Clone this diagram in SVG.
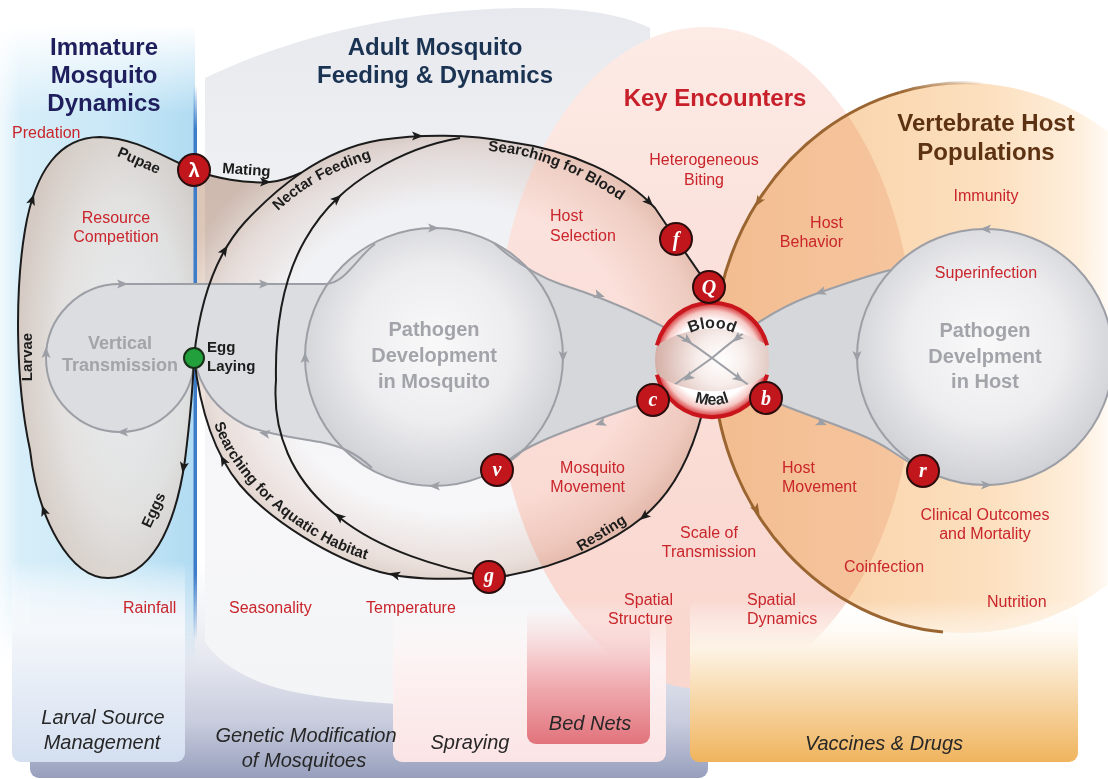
<svg xmlns="http://www.w3.org/2000/svg" width="1108" height="779" viewBox="0 0 1108 779">
<defs>
<style>
.ttl{font-family:"Liberation Sans",Arial,sans-serif;font-weight:bold;font-size:24px;text-anchor:middle}
.lbl{font-family:"Liberation Sans",Arial,sans-serif;font-size:16px;fill:#c9252b}
.mid{text-anchor:middle}
.end{text-anchor:end}
.blk{font-family:"Liberation Sans",Arial,sans-serif;font-weight:bold;font-size:15px;fill:#1c1c1c}
.gry{font-family:"Liberation Sans",Arial,sans-serif;font-weight:bold;font-size:20px;fill:#a3a4aa;text-anchor:middle}
.bot{font-family:"Liberation Sans",Arial,sans-serif;font-style:italic;font-size:20px;fill:#272727;text-anchor:middle}
.nd{fill:#c0161c;stroke:#2b0d0d;stroke-width:2}
.nl{font-family:"Liberation Serif","Times New Roman",serif;font-style:italic;font-weight:bold;font-size:20px;fill:#ffffff;text-anchor:middle}
.bl{fill:none;stroke:#1b1b1b;stroke-width:2}
.gl{fill:none;stroke:#9d9fa6;stroke-width:2}
.ah{fill:#1b1b1b}
.gh{fill:#9d9fa6}
.bh{fill:#9a6530}
.bm{font-family:"Liberation Sans",Arial,sans-serif;font-weight:bold;font-size:16px;fill:#262626;text-anchor:middle}
</style>
<linearGradient id="gStrip" x1="0" y1="560" x2="0" y2="778" gradientUnits="userSpaceOnUse">
<stop offset="0" stop-color="#e9ebf2" stop-opacity="0"/><stop offset="0.45" stop-color="#e6e8f0"/><stop offset="0.75" stop-color="#c7cbdc"/><stop offset="1" stop-color="#979fbd"/>
</linearGradient>
<linearGradient id="gAdultBg" x1="0" y1="8" x2="0" y2="705" gradientUnits="userSpaceOnUse">
<stop offset="0" stop-color="#e8e9ee"/><stop offset="0.3" stop-color="#f0f1f4"/><stop offset="0.7" stop-color="#f7f7f9"/><stop offset="1" stop-color="#f3f4f6"/>
</linearGradient>
<linearGradient id="gBlueH" x1="0" y1="0" x2="195" y2="0" gradientUnits="userSpaceOnUse">
<stop offset="0" stop-color="#e2f2fb" stop-opacity="0.5"/><stop offset="0.1" stop-color="#d7eef9"/><stop offset="0.6" stop-color="#c8e7f6"/><stop offset="1" stop-color="#b0dbf2"/>
</linearGradient>
<linearGradient id="gMaskV" x1="0" y1="25" x2="0" y2="665" gradientUnits="userSpaceOnUse">
<stop offset="0" stop-color="#000"/><stop offset="0.14" stop-color="#fff"/><stop offset="0.84" stop-color="#fff"/><stop offset="1" stop-color="#000"/>
</linearGradient>
<mask id="mBlue"><rect x="0" y="25" width="200" height="640" fill="url(#gMaskV)"/></mask>
<linearGradient id="gPink" x1="0" y1="27" x2="0" y2="690" gradientUnits="userSpaceOnUse">
<stop offset="0" stop-color="#fdebe6"/><stop offset="0.3" stop-color="#fbe2dc"/><stop offset="1" stop-color="#f9d6ce"/>
</linearGradient>
<linearGradient id="gOr" x1="713" y1="0" x2="1108" y2="0" gradientUnits="userSpaceOnUse">
<stop offset="0" stop-color="#f8cfa4"/><stop offset="0.4" stop-color="#fad7b0"/><stop offset="0.7" stop-color="#fce0bf"/><stop offset="0.92" stop-color="#feeedb"/><stop offset="1" stop-color="#fffaf4"/>
</linearGradient>
<clipPath id="cOr"><ellipse cx="965" cy="358" rx="252" ry="275"/></clipPath>
<linearGradient id="gLar" x1="0" y1="560" x2="0" y2="762" gradientUnits="userSpaceOnUse">
<stop offset="0" stop-color="#ffffff" stop-opacity="0"/><stop offset="0.35" stop-color="#f4f7fb"/><stop offset="1" stop-color="#d4dff0"/>
</linearGradient>
<linearGradient id="gSpr" x1="0" y1="600" x2="0" y2="762" gradientUnits="userSpaceOnUse">
<stop offset="0" stop-color="#ffffff" stop-opacity="0"/><stop offset="0.4" stop-color="#fdf2f2"/><stop offset="1" stop-color="#fbe4e5"/>
</linearGradient>
<linearGradient id="gBed" x1="0" y1="610" x2="0" y2="744" gradientUnits="userSpaceOnUse">
<stop offset="0" stop-color="#f6c9c9" stop-opacity="0"/><stop offset="0.5" stop-color="#f1b4b8"/><stop offset="1" stop-color="#e2737c"/>
</linearGradient>
<linearGradient id="gVac" x1="0" y1="600" x2="0" y2="762" gradientUnits="userSpaceOnUse">
<stop offset="0" stop-color="#ffffff" stop-opacity="0"/><stop offset="0.3" stop-color="#fdf3e4"/><stop offset="1" stop-color="#f0b45d"/>
</linearGradient>
<radialGradient id="gImm" cx="0.6" cy="0.5" r="0.6">
<stop offset="0" stop-color="#f0eeee"/><stop offset="0.6" stop-color="#e9e0db"/><stop offset="1" stop-color="#d5c2b6"/>
</radialGradient>
<radialGradient id="gAd" cx="0.5" cy="0.5" r="0.56">
<stop offset="0" stop-color="#ffffff"/><stop offset="0.62" stop-color="#ffffff"/><stop offset="0.84" stop-color="#f3e8e2"/><stop offset="1" stop-color="#dcc6b8"/>
</radialGradient>
<radialGradient id="gPc" cx="0.5" cy="0.45" r="0.55">
<stop offset="0" stop-color="#f9f9fa"/><stop offset="0.55" stop-color="#ededef"/><stop offset="1" stop-color="#cfd0d5"/>
</radialGradient>
<radialGradient id="gBM" cx="0.58" cy="0.5" r="0.6">
<stop offset="0" stop-color="#ffffff"/><stop offset="0.35" stop-color="#f7eeeb"/><stop offset="1" stop-color="#d3aba2"/>
</radialGradient>
<radialGradient id="gBand" gradientUnits="userSpaceOnUse" cx="712" cy="360" r="57">
<stop offset="0" stop-color="#ffffff"/><stop offset="0.7" stop-color="#ffffff"/><stop offset="0.86" stop-color="#f6c9c5"/><stop offset="1" stop-color="#d3282c"/>
</radialGradient>
<linearGradient id="gBr" x1="900" y1="0" x2="985" y2="0" gradientUnits="userSpaceOnUse">
<stop offset="0" stop-color="#9a6530"/><stop offset="1" stop-color="#9a6530" stop-opacity="0"/>
</linearGradient>
<linearGradient id="gBL" x1="0" y1="85" x2="0" y2="640" gradientUnits="userSpaceOnUse">
<stop offset="0" stop-color="#3d7cc8" stop-opacity="0"/><stop offset="0.08" stop-color="#3d7cc8"/><stop offset="0.88" stop-color="#3d7cc8"/><stop offset="1" stop-color="#3d7cc8" stop-opacity="0"/>
</linearGradient>
<path id="ar" d="M3,0 L-8,-4.5 L-5.5,0 L-8,4.5 Z"/>
<path id="tpNF" d="M278,211 C 300,190 330,170 386,154"/>
<path id="tpSB" d="M488,151 C 530,153 580,170 640,214"/>
<path id="tpAQ" d="M214,424 C 230,470 272,515 330,545 C 352,556 375,563 400,567"/>
<path id="tpBlood" d="M668.7,353 A50,50 0 0 1 755.3,353"/>
<path id="tpMeal" d="M668.7,380 A50,50 0 0 0 755.3,380"/>
</defs>

<g id="backgrounds">
<rect x="30" y="560" width="678" height="218" rx="9" fill="url(#gStrip)"/>
<path d="M205,78 C 300,32 420,8 530,8 C 590,8 625,16 650,28 L 660,700 C 560,708 380,712 285,690 C 245,680 218,662 205,642 Z" fill="url(#gAdultBg)"/>
<rect x="0" y="25" width="195" height="640" fill="url(#gBlueH)" mask="url(#mBlue)"/>
<ellipse cx="705" cy="358" rx="210" ry="331" fill="url(#gPink)"/>
<ellipse cx="965" cy="358" rx="252" ry="275" fill="url(#gOr)"/>
<ellipse cx="705" cy="358" rx="210" ry="331" fill="#f6d2c4" clip-path="url(#cOr)" style="mix-blend-mode:multiply" opacity="0.5"/>
</g>

<g id="intervention-boxes">
<rect x="12" y="560" width="173" height="202" rx="9" fill="url(#gLar)"/>
<rect x="393" y="600" width="273" height="162" rx="9" fill="url(#gSpr)"/>
<rect x="527" y="560" width="123" height="184" rx="9" fill="url(#gBed)"/>
<rect x="690" y="600" width="388" height="162" rx="9" fill="url(#gVac)"/>
</g>

<g id="cycle-fills">
<path d="M194,170 C 160,155 135,138 100,137 C 60,137 35,170 25,230 C 15,290 15,380 30,450 C 38,520 70,578 108,578 C 150,578 175,530 185,460 C 190,420 193,385 194,357 Z" fill="url(#gImm)" opacity="0.8"/>
<path d="M194,170 C 215,178 245,184 270,182 C 282,181 292,177 301.25,172.75 C 323.75,157.5 350,145 380,140 C 420,134 470,134 510,142 C 570,150 625,175 655,208 L 676,239 L 709,287 L 712,304 L 712,416 L 700,416 C 690,460 670,495 643,517 C 615,540 565,566 505,576 L 489,577 C 450,580 410,580 380,572 C 330,558 270,520 240,485 C 215,455 200,410 194,357 Z" fill="url(#gAd)" style="mix-blend-mode:multiply"/>
</g>

<rect id="divider" x="193.5" y="85" width="3.5" height="555" fill="url(#gBL)"/>

<g id="pathogen-fills">
<path d="M120,284 L325,284 C 345,284 358,256 375,244 L434,357 L372,468 C 355,452 340,446 320,442 C 290,437 262,433 245,425 C 220,412 200,390 194,358 A74,74 0 1 1 120,284 Z" fill="#dcdde1"/>
<path d="M494,243 C 515,262 535,275 560,284 C 610,300 665,322 712,358 L 653,400 C 620,412 570,428 540,442 C 522,450 508,459 497,470 L 434,357 Z" fill="#d6d7db"/>
<path d="M712,358 C 745,330 775,309 810,296 C 835,287 860,278 890,270 L 985,357 L 923,471 C 915,466 905,460 890,450 C 860,430 810,418 766,398 Z" fill="#d6d7db"/>
</g>

<g id="host-border">
<path d="M899.8,92.4 A252,275 0 0 0 943,632" fill="none" stroke="#9a6530" stroke-width="3"/>
<path d="M1030.2,92.4 A252,275 0 0 0 899.8,92.4" fill="none" stroke="url(#gBr)" stroke-width="3"/>
</g>

<g id="node-pathogen-mosquito">
<circle cx="434" cy="357" r="129" fill="url(#gPc)" stroke="#9d9fa6" stroke-width="2"/>
<text class="gry"><tspan x="434" y="336">Pathogen</tspan><tspan x="434" y="362">Development</tspan><tspan x="434" y="388">in Mosquito</tspan></text>
</g>
<g id="node-pathogen-host">
<circle cx="985" cy="357" r="128" fill="url(#gPc)" stroke="#9d9fa6" stroke-width="2"/>
<text class="gry"><tspan x="985" y="337">Pathogen</tspan><tspan x="985" y="363">Develpment</tspan><tspan x="985" y="388">in Host</tspan></text>
</g>
<g id="node-vertical">
<text class="gry" style="font-size:18px"><tspan x="120" y="349">Vertical</tspan><tspan x="120" y="371">Transmission</tspan></text>
</g>

<g id="blood-meal-sphere">
<circle cx="712" cy="360" r="57" fill="url(#gBM)"/>
</g>

<g id="connectors">
<g id="grey-connectors">
<path class="gl" d="M194,358 A74,74 0 1 1 120,284 L325,284 C 345,284 358,256 375,244"/>
<path class="gl" d="M372,468 C 355,452 340,446 320,442 C 290,437 262,433 245,425 C 220,412 200,390 194,358"/>
<path class="gl" d="M494,243 C 515,262 535,275 560,284 C 610,300 665,322 712,358 L 766,398"/>
<path class="gl" d="M890,270 C 860,278 835,287 810,296 C 775,309 745,330 712,358 L 653,400"/>
<path class="gl" d="M653,400 C 620,412 570,428 540,442 C 522,450 508,459 497,470"/>
<path class="gl" d="M766,398 C 810,418 860,430 890,450 C 905,460 915,466 923,471"/>
<use href="#ar" class="gh" transform="translate(120,432) rotate(180)"/>
<use href="#ar" class="gh" transform="translate(46,350) rotate(-90)"/>
<use href="#ar" class="gh" transform="translate(125,284)"/>
<use href="#ar" class="gh" transform="translate(267,284)"/>
<use href="#ar" class="gh" transform="translate(262,433) rotate(190)"/>
<use href="#ar" class="gh" transform="translate(436,228)"/>
<use href="#ar" class="gh" transform="translate(563,359) rotate(90)"/>
<use href="#ar" class="gh" transform="translate(432,486) rotate(180)"/>
<use href="#ar" class="gh" transform="translate(305,355) rotate(-90)"/>
<use href="#ar" class="gh" transform="translate(602,296) rotate(17)"/>
<use href="#ar" class="gh" transform="translate(598,424) rotate(162)"/>
<use href="#ar" class="gh" transform="translate(690,342) rotate(37)"/>
<use href="#ar" class="gh" transform="translate(741,380) rotate(36)"/>
<use href="#ar" class="gh" transform="translate(735,340) rotate(140)"/>
<use href="#ar" class="gh" transform="translate(686,379) rotate(145)"/>
<use href="#ar" class="gh" transform="translate(824,424) rotate(22)"/>
<use href="#ar" class="gh" transform="translate(818,293) rotate(162)"/>
<use href="#ar" class="gh" transform="translate(983,229) rotate(180)"/>
<use href="#ar" class="gh" transform="translate(857,359) rotate(90)"/>
<use href="#ar" class="gh" transform="translate(989,485)"/>
</g>
<g id="black-connectors">
<path class="bl" d="M194,170 C 160,155 135,138 100,137 C 60,137 35,170 25,230 C 15,290 15,380 30,450 C 38,520 70,578 108,578 C 150,578 175,530 185,460 C 190,420 193,385 194,357"/>
<path class="bl" d="M194,170 C 215,178 245,184 270,182 C 282,181 292,177 301.25,172.75"/>
<path class="bl" d="M194,357 C 200,300 215,255 245,222 C 275,190 320,150 380,140 C 420,134 470,134 510,142 C 570,150 625,175 655,208 L 676,239 L 709,287 L 712,304"/>
<path class="bl" d="M489,577 C 440,568 380,550 340,518 C 290,480 272,430 276,380 C 275,330 282,280 305,240 C 325,205 350,185 375,170 C 400,155 430,143 460,138"/>
<path class="bl" d="M489,577 C 450,580 410,580 380,572 C 330,558 270,520 240,485 C 215,455 200,410 194,357"/>
<path class="bl" d="M702,414 C 690,460 670,495 643,517 C 615,540 565,566 505,576"/>
<use href="#ar" class="ah" transform="translate(33,197) rotate(-72)"/>
<use href="#ar" class="ah" transform="translate(43,508) rotate(-109)"/>
<use href="#ar" class="ah" transform="translate(183,470) rotate(100)"/>
<use href="#ar" class="ah" transform="translate(268,182)"/>
<use href="#ar" class="ah" transform="translate(226,248) rotate(-58)"/>
<use href="#ar" class="ah" transform="translate(420,136)"/>
<use href="#ar" class="ah" transform="translate(651,204) rotate(45)"/>
<use href="#ar" class="ah" transform="translate(339,197) rotate(-42)"/>
<use href="#ar" class="ah" transform="translate(337,515) rotate(-141)"/>
<use href="#ar" class="ah" transform="translate(392,574) rotate(195)"/>
<use href="#ar" class="ah" transform="translate(222,458) rotate(-118)"/>
<use href="#ar" class="ah" transform="translate(642,518) rotate(141)"/>
</g>
<g id="brown-arrows">
<use href="#ar" class="bh" transform="translate(757,204) rotate(122)"/>
<use href="#ar" class="bh" transform="translate(758,512) rotate(58)"/>
</g>
</g>

<g id="node-blood-meal">
<path d="M656.9,345.2 A57,57 0 0 1 767.1,345.2 A100,100 0 0 0 656.9,345.2 Z" fill="url(#gBand)"/>
<path d="M656.9,374.8 A57,57 0 0 0 767.1,374.8 A100,100 0 0 1 656.9,374.8 Z" fill="url(#gBand)"/>
<path d="M656.9,345.2 A57,57 0 0 1 767.1,345.2" fill="none" stroke="#c8161c" stroke-width="4"/>
<path d="M656.9,374.8 A57,57 0 0 0 767.1,374.8" fill="none" stroke="#c8161c" stroke-width="4"/>
<text class="bm"><textPath href="#tpBlood" startOffset="50%">Blood</textPath></text>
<text class="bm"><textPath href="#tpMeal" startOffset="50%">Meal</textPath></text>
</g>

<g id="node-lambda"><circle class="nd" cx="194" cy="170" r="16"/><text x="194" y="177" class="nl" style="font-family:'Liberation Sans',Arial,sans-serif;font-style:normal">λ</text></g>
<g id="node-f"><circle class="nd" cx="676" cy="239" r="16"/><text x="676" y="246" class="nl">f</text></g>
<g id="node-Q"><circle class="nd" cx="709" cy="287" r="16"/><text x="709" y="294" class="nl">Q</text></g>
<g id="node-c"><circle class="nd" cx="653" cy="400" r="16"/><text x="653" y="406" class="nl">c</text></g>
<g id="node-v"><circle class="nd" cx="497" cy="470" r="16"/><text x="497" y="476" class="nl">v</text></g>
<g id="node-b"><circle class="nd" cx="766" cy="398" r="16"/><text x="766" y="405" class="nl">b</text></g>
<g id="node-g"><circle class="nd" cx="489" cy="577" r="16"/><text x="489" y="582" class="nl">g</text></g>
<g id="node-r"><circle class="nd" cx="923" cy="471" r="16"/><text x="923" y="477" class="nl">r</text></g>
<g id="node-egg"><circle cx="194" cy="358" r="10" fill="#22a03c" stroke="#183018" stroke-width="2"/>
<text class="blk"><tspan x="207" y="352">Egg</tspan><tspan x="207" y="371">Laying</tspan></text></g>

<g id="flow-labels">
<text class="blk" transform="translate(137,165) rotate(24)" text-anchor="middle">Pupae</text>
<text class="blk" transform="translate(222,173) rotate(4)">Mating</text>
<text class="blk" transform="translate(32,357) rotate(-90)" text-anchor="middle">Larvae</text>
<text class="blk" transform="translate(158,512) rotate(-65)" text-anchor="middle">Eggs</text>
<text class="blk" transform="translate(604,537) rotate(-32)" text-anchor="middle">Resting</text>
<text class="blk"><textPath href="#tpNF">Nectar Feeding</textPath></text>
<text class="blk"><textPath href="#tpSB">Searching for Blood</textPath></text>
<text class="blk"><textPath href="#tpAQ">Searching for Aquatic Habitat</textPath></text>
</g>

<g id="titles">
<text class="ttl" fill="#1f1f5e"><tspan x="104" y="55">Immature</tspan><tspan x="104" y="83">Mosquito</tspan><tspan x="104" y="111">Dynamics</tspan></text>
<text class="ttl" fill="#1b3352"><tspan x="435" y="55">Adult Mosquito</tspan><tspan x="435" y="83">Feeding &amp; Dynamics</tspan></text>
<text class="ttl" fill="#c8202a" x="715" y="106">Key Encounters</text>
<text class="ttl" fill="#5c3212"><tspan x="986" y="131">Vertebrate Host</tspan><tspan x="986" y="160">Populations</tspan></text>
</g>

<g id="factor-labels">
<text class="lbl" x="12" y="138">Predation</text>
<text class="lbl mid"><tspan x="116" y="223">Resource</tspan><tspan x="116" y="242">Competition</tspan></text>
<text class="lbl mid"><tspan x="704" y="165">Heterogeneous</tspan><tspan x="704" y="185">Biting</tspan></text>
<text class="lbl"><tspan x="550" y="221">Host</tspan><tspan x="550" y="241">Selection</tspan></text>
<text class="lbl end"><tspan x="843" y="228">Host</tspan><tspan x="843" y="247">Behavior</tspan></text>
<text class="lbl mid" x="986" y="201">Immunity</text>
<text class="lbl mid" x="986" y="278">Superinfection</text>
<text class="lbl end"><tspan x="625" y="473">Mosquito</tspan><tspan x="625" y="492">Movement</tspan></text>
<text class="lbl mid"><tspan x="709" y="538">Scale of</tspan><tspan x="709" y="557">Transmission</tspan></text>
<text class="lbl"><tspan x="782" y="473">Host</tspan><tspan x="782" y="492">Movement</tspan></text>
<text class="lbl mid"><tspan x="985" y="520">Clinical Outcomes</tspan><tspan x="985" y="539">and Mortality</tspan></text>
<text class="lbl" x="844" y="572">Coinfection</text>
<text class="lbl end"><tspan x="673" y="605">Spatial</tspan><tspan x="673" y="624">Structure</tspan></text>
<text class="lbl"><tspan x="747" y="605">Spatial</tspan><tspan x="747" y="624">Dynamics</tspan></text>
<text class="lbl" x="987" y="607">Nutrition</text>
<text class="lbl" x="123" y="613">Rainfall</text>
<text class="lbl" x="229" y="613">Seasonality</text>
<text class="lbl" x="366" y="613">Temperature</text>
</g>

<g id="intervention-labels">
<text class="bot"><tspan x="103" y="724">Larval Source</tspan><tspan x="102" y="749">Management</tspan></text>
<text class="bot"><tspan x="306" y="742">Genetic Modification</tspan><tspan x="304" y="767">of Mosquitoes</tspan></text>
<text class="bot" x="470" y="749">Spraying</text>
<text class="bot" x="590" y="730">Bed Nets</text>
<text class="bot" x="884" y="750">Vaccines &amp; Drugs</text>
</g>
</svg>
